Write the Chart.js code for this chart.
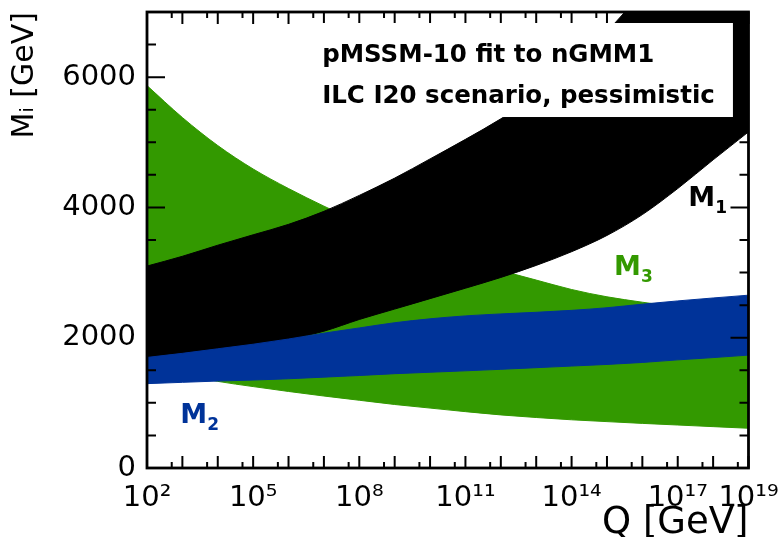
<!DOCTYPE html>
<html>
<head>
<meta charset="utf-8">
<script src="https://cdn.jsdelivr.net/npm/chart.js"></script>
<style>
  html, body { margin: 0; padding: 0; background: #fff; }
</style>
</head>
<body>
<canvas id="myChart" width="779" height="537"></canvas>
<script>
// x = log10(Q / GeV)
const logQ = [2, 3, 4, 5, 6, 7, 8, 9, 10, 11, 12, 13, 14, 15, 16, 17, 18, 19];

// M1 band (black)
const m1Upper = [3100, 3250, 3420, 3580, 3740, 3940, 4185, 4450, 4745, 5045, 5360, 5720, 6150, 6700, 7300, 7900, 8500, 9100];
const m1Lower = [1690, 1755, 1825, 1895, 1975, 2100, 2280, 2440, 2600, 2760, 2925, 3110, 3320, 3570, 3890, 4290, 4730, 5160];
// M2 band (blue)
const m2Upper = [1697, 1760, 1830, 1900, 1980, 2070, 2150, 2230, 2290, 2335, 2365, 2390, 2420, 2460, 2515, 2565, 2610, 2653];
const m2Lower = [1295, 1315, 1335, 1350, 1370, 1395, 1420, 1448, 1470, 1492, 1515, 1540, 1565, 1590, 1620, 1660, 1695, 1733];
// M3 band (green)
const m3Upper = [5870, 5380, 4950, 4590, 4290, 4020, 3770, 3545, 3350, 3180, 3030, 2885, 2740, 2628, 2545, 2470, 2400, 2340];
const m3Lower = [1560, 1440, 1330, 1250, 1175, 1105, 1040, 975, 920, 865, 815, 775, 740, 712, 685, 660, 635, 610];

// tick labels
const xTickExp = [2, 5, 8, 11, 14, 17, 19];
const yTickValues = [0, 2000, 4000, 6000];

const GREEN = '#339900';
const BLUE = '#003399';
const BLACK = '#000000';

const SUP = {'0':'⁰','1':'¹','2':'²','3':'³','4':'⁴','5':'⁵','6':'⁶','7':'⁷','8':'⁸','9':'⁹'};
const sup = n => String(n).split('').map(c => SUP[c]).join('');

const pts = arr => logQ.map((q, i) => ({x: q, y: arr[i]}));

const band = (label, upper, lower, color) => [
  {label: label, data: pts(upper), fill: '+1', backgroundColor: color, borderColor: color,
   borderWidth: 1, pointRadius: 0, cubicInterpolationMode: 'monotone'},
  {label: label + ' low', data: pts(lower), fill: false, backgroundColor: color, borderColor: color,
   borderWidth: 1, pointRadius: 0, cubicInterpolationMode: 'monotone'}
];

// text box and labels, in data units
const infoBox = {x0: 6.61, x1: 18.56, y0: 5388, y1: 6831};
const infoLines = [
  {text: 'pMSSM-10 fit to nGMM1', x: 6.95, y: 6233},
  {text: 'ILC I20 scenario, pessimistic', x: 6.95, y: 5603}
];
const bandLabels = [
  {main: 'M', sub: '1', x: 17.3, y: 4022, color: BLACK},
  {main: 'M', sub: '3', x: 15.2, y: 2963, color: GREEN},
  {main: 'M', sub: '2', x: 2.94, y: 691, color: BLUE}
];

const frame = {
  id: 'frame',
  afterDatasetsDraw(chart) {
    const {ctx, chartArea: a, scales: {x, y}} = chart;
    ctx.save();
    ctx.strokeStyle = '#000';
    ctx.lineWidth = 2;
    ctx.beginPath();
    for (let n = 2; n <= 19; n++) {
      [[n, 12], [n + Math.log10(5), 6]].forEach(([v, len]) => {
        if (v > 19) return;
        const px = x.getPixelForValue(v);
        ctx.moveTo(px, a.bottom); ctx.lineTo(px, a.bottom - len);
        ctx.moveTo(px, a.top); ctx.lineTo(px, a.top + len);
      });
    }
    for (let v = 0; v <= 7000; v += 500) {
      const len = v % 2000 === 0 ? 18 : 9;
      const py = y.getPixelForValue(v);
      ctx.moveTo(a.left, py); ctx.lineTo(a.left + len, py);
      ctx.moveTo(a.right, py); ctx.lineTo(a.right - len, py);
    }
    ctx.stroke();
    ctx.lineWidth = 2.8;
    ctx.strokeRect(a.left, a.top, a.right - a.left, a.bottom - a.top);

    // white info box
    const bx0 = x.getPixelForValue(infoBox.x0), bx1 = x.getPixelForValue(infoBox.x1);
    const by0 = y.getPixelForValue(infoBox.y1), by1 = y.getPixelForValue(infoBox.y0);
    ctx.fillStyle = '#fff';
    ctx.fillRect(bx0, by0, bx1 - bx0, by1 - by0);
    ctx.fillStyle = '#000';
    ctx.font = 'bold 24.5px "DejaVu Sans"';
    ctx.textBaseline = 'alphabetic';
    ctx.textAlign = 'left';
    infoLines.forEach(l => ctx.fillText(l.text, x.getPixelForValue(l.x), y.getPixelForValue(l.y)));

    bandLabels.forEach(l => {
      const px = x.getPixelForValue(l.x), py = y.getPixelForValue(l.y);
      ctx.fillStyle = l.color;
      ctx.font = 'bold 27px "DejaVu Sans"';
      ctx.fillText(l.main, px, py);
      const w = ctx.measureText(l.main).width;
      ctx.font = 'bold 17px "DejaVu Sans"';
      ctx.fillText(l.sub, px + w, py + 7);
    });
    ctx.restore();
  }
};

Chart.defaults.font.family = '"DejaVu Sans"';
Chart.defaults.color = '#000';

const myChart = new Chart(document.getElementById('myChart'), {
  type: 'line',
  data: {
    datasets: [
      ...band('M2', m2Upper, m2Lower, BLUE),
      ...band('M1', m1Upper, m1Lower, BLACK),
      ...band('M3', m3Upper, m3Lower, GREEN)
    ]
  },
  options: {
    responsive: false,
    animation: false,
    layout: {padding: {left: 0, top: 12, right: 30.5, bottom: 0}},
    plugins: {legend: {display: false}, tooltip: {enabled: false}},
    scales: {
      x: {
        type: 'linear', min: 2, max: 19,
        afterBuildTicks: s => { s.ticks = xTickExp.map(v => ({value: v})); },
        afterFit: s => { s.height = 69; s.paddingLeft = 0; s.paddingRight = 0; },
        grid: {display: false, drawTicks: false}, border: {display: false},
        ticks: {autoSkip: false, maxRotation: 0, padding: 13, font: {size: 29},
                callback: v => '10' + sup(v)},
        title: {display: true, text: 'Q [GeV]', align: 'end', font: {size: 37},
                padding: {top: 0, bottom: -9}}
      },
      y: {
        min: 0, max: 7000,
        afterBuildTicks: s => { s.ticks = yTickValues.map(v => ({value: v})); },
        afterFit: s => { s.width = 147; s.paddingTop = 0; s.paddingBottom = 0; },
        grid: {display: false, drawTicks: false}, border: {display: false},
        ticks: {padding: 11, font: {size: 29}, callback: v => String(v)},
        title: {display: true, text: 'Mᵢ [GeV]', align: 'end', font: {size: 30},
                padding: {top: 7, bottom: 0}}
      }
    }
  },
  plugins: [frame]
});
</script>
</body>
</html>
